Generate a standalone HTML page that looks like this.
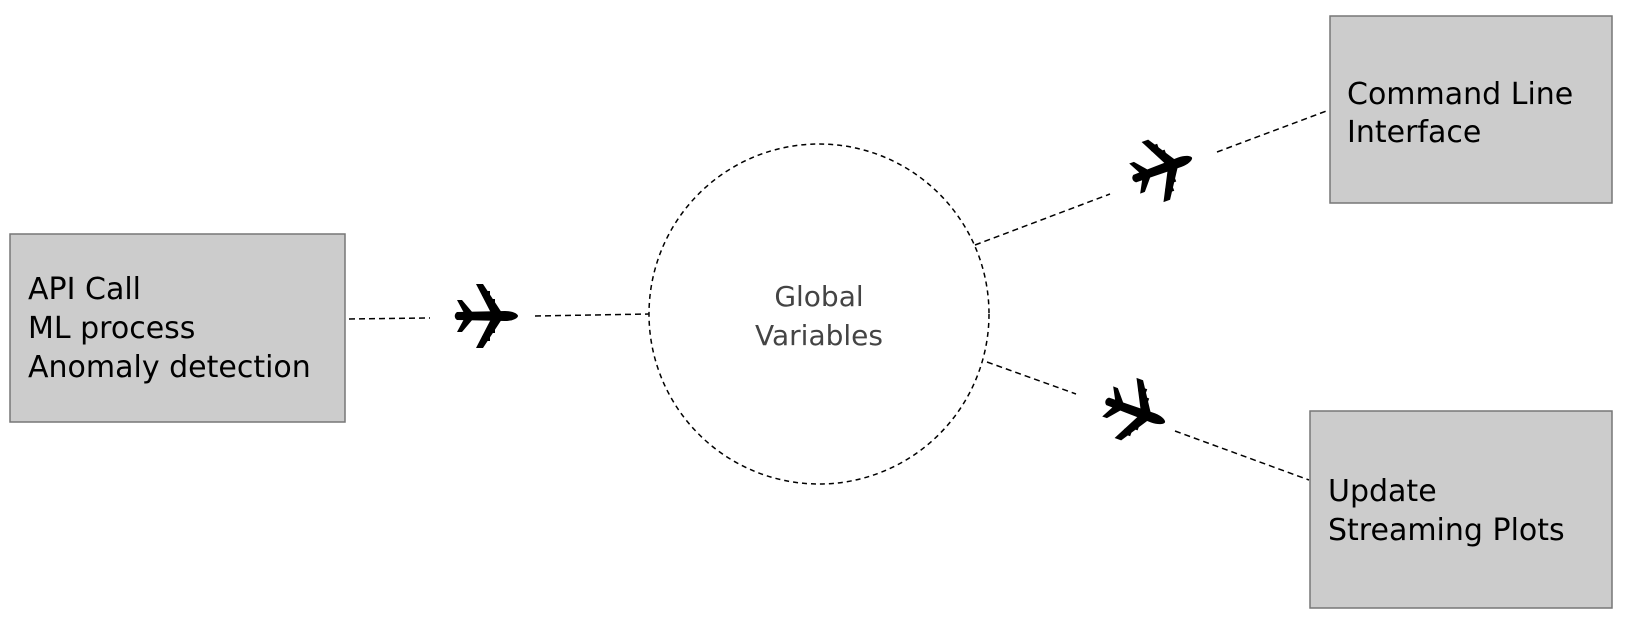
<!DOCTYPE html>
<html><head><style>
body{margin:0;background:#fff;}
svg{display:block;}
</style></head><body>
<svg width="1626" height="628" viewBox="0 0 1626 628" xmlns="http://www.w3.org/2000/svg">
<defs>
<g id="plane">
<path d="M-28,-4 L20,-5 C28,-5 33,-2 33,0 C33,2 28,5 20,5 L-28,4 C-31,2 -31,-2 -28,-4 Z" fill="#000"/>
<path d="M6,-3 L-9,-32 L-2,-32 L17,-3 Z M6,3 L-9,32 L-2,32 L17,3 Z" fill="#000"/>
<path d="M-21,-3 L-28,-16 L-23,-16 L-12,-3 Z M-21,3 L-28,16 L-23,16 L-12,3 Z" fill="#000"/>
<rect x="2" y="-17" width="8" height="5" fill="#000"/><rect x="-3" y="-25" width="8" height="5" fill="#000"/>
<rect x="2" y="12" width="8" height="5" fill="#000"/><rect x="-3" y="20" width="8" height="5" fill="#000"/>
</g>
</defs>
<rect x="10" y="234" width="335" height="188" fill="#ccc" stroke="#777" stroke-width="1.5"/>
<rect x="1330" y="16" width="282" height="187" fill="#ccc" stroke="#777" stroke-width="1.5"/>
<rect x="1310" y="411" width="302" height="197" fill="#ccc" stroke="#777" stroke-width="1.5"/>
<circle cx="819" cy="314" r="170" fill="none" stroke="#000" stroke-width="1.5" stroke-dasharray="5,4"/>
<g stroke="#000" stroke-width="1.5" stroke-dasharray="6,4" fill="none">
<line x1="349" y1="319" x2="430" y2="318"/><line x1="535" y1="316" x2="649" y2="314"/>
<line x1="975" y1="245" x2="1110" y2="194"/><line x1="1217" y1="152" x2="1329" y2="110"/>
<line x1="987" y1="362" x2="1076" y2="394"/><line x1="1175" y1="431" x2="1309" y2="480"/>
</g>
<use href="#plane" transform="translate(485,316)"/>
<use href="#plane" transform="translate(1161,169) rotate(-20)"/>
<use href="#plane" transform="translate(1134,411) rotate(20)"/>
<g font-family="DejaVu Sans, sans-serif" font-size="30" fill="#000">
<text x="28" y="299">API Call</text><text x="28" y="338">ML process</text><text x="28" y="377">Anomaly detection</text>
<text x="1347" y="104">Command Line</text><text x="1347" y="142">Interface</text>
<text x="1328" y="501">Update</text><text x="1328" y="540">Streaming Plots</text>
</g>
<g font-family="DejaVu Sans, sans-serif" font-size="28" fill="#444" text-anchor="middle">
<text x="819" y="306">Global</text><text x="819" y="345">Variables</text>
</g>
</svg>
</body></html>
